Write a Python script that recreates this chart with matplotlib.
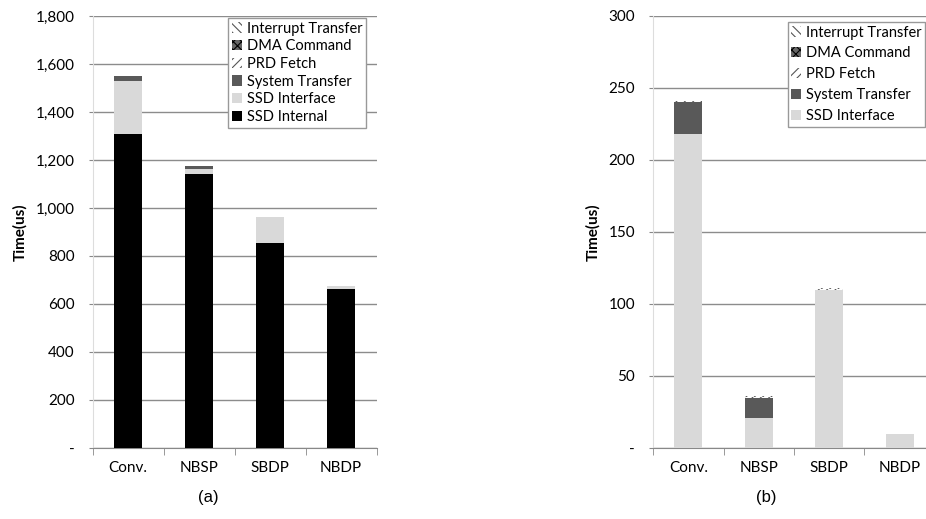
import numpy as np
import matplotlib.pyplot as plt
from matplotlib.ticker import FuncFormatter

plt.rcParams['font.family'] = ['Lato', 'DejaVu Sans']
plt.rcParams['hatch.linewidth'] = 0.8

# datos
categorias = ['Conv.', 'NBSP', 'SBDP', 'NBDP']
ssd_internal = [1310, 1140, 853, 664]
ssd_interface = [218, 21, 110, 10]
system_transfer = [22, 14, 0, 0]
prd_fetch = [0.3, 0.3, 0.3, 0]
dma_command = [0.3, 0.3, 0.3, 0]
interrupt_transfer = [0.4, 0.4, 0.4, 0]

capas = [
    ('SSD Internal', ssd_internal, dict(color='black')),
    ('SSD Interface', ssd_interface, dict(color='#d9d9d9')),
    ('System Transfer', system_transfer, dict(color='#595959')),
    ('PRD Fetch', prd_fetch, dict(facecolor='white', edgecolor='#555555', hatch='////', linewidth=0)),
    ('DMA Command', dma_command, dict(facecolor='#666666', edgecolor='black', hatch='xxxx', linewidth=0)),
    ('Interrupt Transfer', interrupt_transfer, dict(facecolor='white', edgecolor='#555555', hatch='\\\\\\\\', linewidth=0)),
]

fig = plt.figure(figsize=(9.26, 5.19), dpi=100)
ax1 = fig.add_axes([0.0999, 0.1368, 0.3067, 0.8324])
ax2 = fig.add_axes([0.7052, 0.1368, 0.3045, 0.8324])

def fmt(v, pos):
    if v == 0:
        return '-'
    return f'{int(v):,}'

def dibujar(ax, capas_usadas, ymax, paso, labelspacing, ancla):
    x = np.arange(len(categorias))
    base = np.zeros(len(categorias))
    for nombre, vals, estilo in capas_usadas:
        vals = np.array(vals, dtype=float)
        ax.bar(x, vals, 0.4, bottom=base, label=nombre, zorder=3, **estilo)
        base = base + vals
    ax.set_xlim(-0.5, 3.5)
    ax.set_ylim(0, ymax)
    ax.set_yticks(np.arange(0, ymax + 1, paso))
    ax.yaxis.set_major_formatter(FuncFormatter(fmt))
    ax.set_xticks(x)
    ax.set_xticklabels(categorias)
    ax.set_xticks(np.arange(-0.5, 4, 1), minor=True)
    ax.tick_params(axis='x', which='major', length=0, pad=9, labelsize=11)
    ax.tick_params(axis='x', which='minor', length=5, color='#888888', direction='out')
    ax.tick_params(axis='y', length=3, color='#888888', pad=10, labelsize=11)
    ax.grid(axis='y', color='#8c8c8c', linewidth=1, zorder=0)
    for s in ['top', 'right']:
        ax.spines[s].set_visible(False)
    ax.spines['left'].set_color('#dddddd')
    ax.spines['bottom'].set_color('#888888')
    ax.set_ylabel('Time(us)', fontweight='bold', fontsize=11, labelpad=6)
    h, l = ax.get_legend_handles_labels()
    leg = ax.legend(h[::-1], l[::-1], loc='upper right',
                    bbox_to_anchor=ancla, bbox_transform=fig.transFigure,
                    fontsize=10.5, handlelength=0.7, handleheight=0.7, handletextpad=0.3,
                    labelspacing=labelspacing, borderpad=0.25, fancybox=False,
                    framealpha=1, edgecolor='#999999', borderaxespad=0)
    leg.get_frame().set_linewidth(1)
    return leg

dibujar(ax1, capas, 1800, 200, 0.25, (366 / 926, 1 - 18 / 519))
dibujar(ax2, capas[1:], 300, 50, 0.47, (925 / 926, 1 - 22 / 519))

fig.text(0.2246, 0.033, '(a)', fontsize=12, family='Liberation Sans', ha='center')
fig.text(0.8272, 0.033, '(b)', fontsize=12, family='Liberation Sans', ha='center')

fig.savefig('out.png', dpi=100)
